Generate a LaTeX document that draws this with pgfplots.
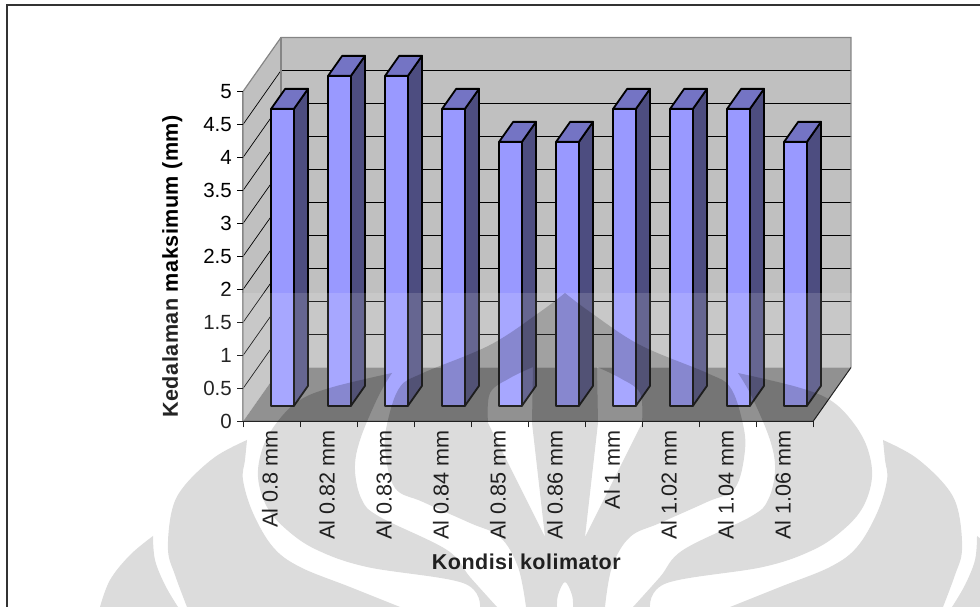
\documentclass[border=0pt]{standalone}
\usepackage{pgfplots}
\pgfplotsset{compat=1.18}
\usepackage{fontspec}
\setmainfont{Liberation Sans}
\newfontfamily\labelfont[LetterSpace=2.2]{Liberation Sans}
\definecolor{wallgray}{HTML}{C0C0C0}
\definecolor{floorgray}{HTML}{808080}
\definecolor{edgegray}{HTML}{858585}
\definecolor{barfront}{HTML}{9999FF}
\definecolor{bartop}{HTML}{7474C4}
\definecolor{barside}{HTML}{4D4D80}

% one column: x range, then its value
\newcommand{\column}[3]{%
  \addplot3[fill=barside,draw=black,line width=1.8pt,line join=round,mark=none]
    coordinates {(#2,0.29,0)(#2,0.66,0)(#2,0.66,#3)(#2,0.29,#3)} --cycle;
  \addplot3[fill=bartop,draw=black,line width=1.8pt,line join=round,mark=none]
    coordinates {(#1,0.29,#3)(#2,0.29,#3)(#2,0.66,#3)(#1,0.66,#3)} --cycle;
  \addplot3[fill=barfront,draw=black,line width=1.8pt,line join=round,mark=none]
    coordinates {(#1,0.29,0)(#2,0.29,0)(#2,0.29,#3)(#1,0.29,#3)} --cycle;
}

% logo pieces on one side of the centre line
\newcommand{\sidepieces}{%
  \fill plot[smooth,tension=0.6] coordinates {(247,440)(215,457)(185,485)(172,510)(168,550)(175,575)(187,607)}
    -- plot[smooth,tension=0.6] coordinates {(400,607)(350,587)(300,567)(273,547)(253,513)(243,480)(245,460)(247,440)} -- cycle;
  \fill plot[smooth,tension=0.6] coordinates {(153,536)(130,555)(110,580)(100,607)}
    -- plot[smooth,tension=0.6] coordinates {(178,607)(165,585)(155,560)(153,536)} -- cycle;
  \fill plot[smooth,tension=0.6] coordinates {(392,373)(333,387)(300,400)(278,421)(263,447)(258,477)(267,507)(287,530)(317,550)(367,567)(463,583)(480,607)}
    -- plot[smooth,tension=0.6] coordinates {(497,607)(470,577)(447,550)(380,517)(362,500)(355,470)(360,440)(378,397)(392,373)} -- cycle;
}
% the full logo, mirrored about its centre line
\newcommand{\emblem}{%
  \begin{scope}[shift={(0,607pt)},x=1pt,y=-1pt]
    \sidepieces
    \fill[even odd rule]
      plot[smooth,tension=0.6] coordinates {(565,293)(540,312)(490,345)(423,373)(400,387)(388,420)(385,450)(395,488)(423,502)(470,523)(500,537)(518,567)(526,607)}
      -- plot[smooth,tension=0.6] coordinates {(557,607)(558,595)(565,582)(572,595)(573,607)}
      -- plot[smooth,tension=0.6] coordinates {(605,607)(612,567)(630,537)(660,523)(707,502)(735,488)(745,450)(742,420)(730,387)(707,373)(640,345)(590,312)(565,293)} -- cycle
      plot[smooth,tension=0.6] coordinates {(488,423)(490,393)(510,378)(533,367)} -- (532,423) -- (545,537) -- cycle
      plot[smooth,tension=0.6] coordinates {(642,423)(640,393)(620,378)(597,367)} -- (598,423) -- (585,537) -- cycle;
  \end{scope}
  \begin{scope}[shift={(1130pt,607pt)},x=-1pt,y=-1pt]
    \sidepieces
  \end{scope}
}

\begin{document}
\begin{tikzpicture}
\path[use as bounding box] (0,0) rectangle (980pt,607pt);
\begin{axis}[
  at={(243pt,185.5pt)}, anchor=origin,
  x={(57pt,0pt)}, y={(38pt,54pt)}, z={(0pt,66pt)},
  disabledatascaling,
  xmin=0, xmax=10, ymin=0, ymax=1, zmin=0, zmax=5,
  clip=false,
  axis x line*=bottom, axis y line=none, axis z line*=left,
  axis line style={draw=edgegray,line width=1.2pt},
  tick style={draw=none},
  major tick length=0pt,
  xtick={0.5,1.5,2.5,3.5,4.5,5.5,6.5,7.5,8.5,9.5},
  xticklabels={Al 0.8 mm,Al 0.82 mm,Al 0.83 mm,Al 0.84 mm,Al 0.85 mm,Al 0.86 mm,Al 1 mm,Al 1.02 mm,Al 1.04 mm,Al 1.06 mm},
  xticklabel style={rotate=90,anchor=east,font=\fontsize{21.6}{23}\selectfont,inner sep=0pt,xshift=-8.5pt,yshift=1.5pt},
  ztick={0,0.5,1,1.5,2,2.5,3,3.5,4,4.5,5},
  zticklabels={0,0.5,1,1.5,2,2.5,3,3.5,4,4.5,5},
  zticklabel style={font=\fontsize{20.5}{22}\selectfont,inner sep=0pt,anchor=east,xshift=-11pt},
  xlabel={Kondisi kolimator},
  xlabel style={at={(axis cs:4.97,0,-2.12)},anchor=center,font=\fontsize{21.5}{24}\labelfont\bfseries},
  zlabel={Kedalaman maksimum (mm)},
  zlabel style={at={(axis cs:-1.24,0,2.35)},anchor=center,rotate=0,font=\fontsize{21.6}{24}\labelfont\bfseries},
]
% walls and floor
\addplot3[fill=wallgray,draw=none,mark=none] coordinates {(0,0,0)(0,1,0)(0,1,5)(0,0,5)} --cycle;
\addplot3[fill=wallgray,draw=none,mark=none] coordinates {(0,1,0)(10,1,0)(10,1,5)(0,1,5)} --cycle;
\addplot3[fill=floorgray,draw=none,mark=none] coordinates {(0,0,0)(10,0,0)(10,1,0)(0,1,0)} --cycle;
% gridlines across the left and back walls
\pgfplotsinvokeforeach{0.5,1,1.5,2,2.5,3,3.5,4,4.5}{
  \addplot3[black,line width=0.7pt,mark=none] coordinates {(0,0,#1)(0,1,#1)(10,1,#1)};
}
% wall outlines
\addplot3[edgegray,line width=1.2pt,mark=none] coordinates {(0,0,0)(0,0,5)(0,1,5)(10,1,5)(10,1,0)};
\addplot3[edgegray,line width=1.2pt,mark=none] coordinates {(0,1,0)(0,1,5)};
\addplot3[black,line width=1pt,mark=none] coordinates {(0,0,0)(10,0,0)(10,1,0)};
% tick marks on the value axis
\pgfplotsinvokeforeach{0,0.5,1,1.5,2,2.5,3,3.5,4,4.5,5}{
  \addplot3[black,line width=0.8pt,mark=none] coordinates {(-0.105,0,#1)(0,0,#1)};
}
% tick marks between the categories
\pgfplotsinvokeforeach{0,1,2,3,4,5,6,7,8,9,10}{
  \addplot3[black,line width=0.8pt,mark=none] coordinates {(#1,0,-0.09)(#1,0,0)};
}
% columns
\column{0.30}{0.70}{4.5}
\column{1.30}{1.70}{5}
\column{2.30}{2.70}{5}
\column{3.30}{3.70}{4.5}
\column{4.30}{4.70}{4}
\column{5.30}{5.70}{4}
\column{6.30}{6.70}{4.5}
\column{7.30}{7.70}{4.5}
\column{8.30}{8.70}{4.5}
\column{9.30}{9.70}{4}
\end{axis}
% lighter band across the lower part of the page
\fill[white,fill opacity=0.14] (0,0) rectangle (980pt,314pt);
% logo printed through the page
\begin{scope}[fill=black,fill opacity=0.137]
  \emblem
\end{scope}
\begin{scope}
  \clip (243pt,186pt) -- (813pt,186pt) -- (851pt,240pt) -- (851pt,314pt) -- (243pt,314pt) -- cycle;
  \begin{scope}[fill=black,fill opacity=0.06]
    \emblem
  \end{scope}
\end{scope}
% page rules
\draw[black!80,line width=2pt] (6.5pt,0) -- (6.5pt,601.5pt) -- (980pt,601.5pt);
\end{tikzpicture}
\end{document}
